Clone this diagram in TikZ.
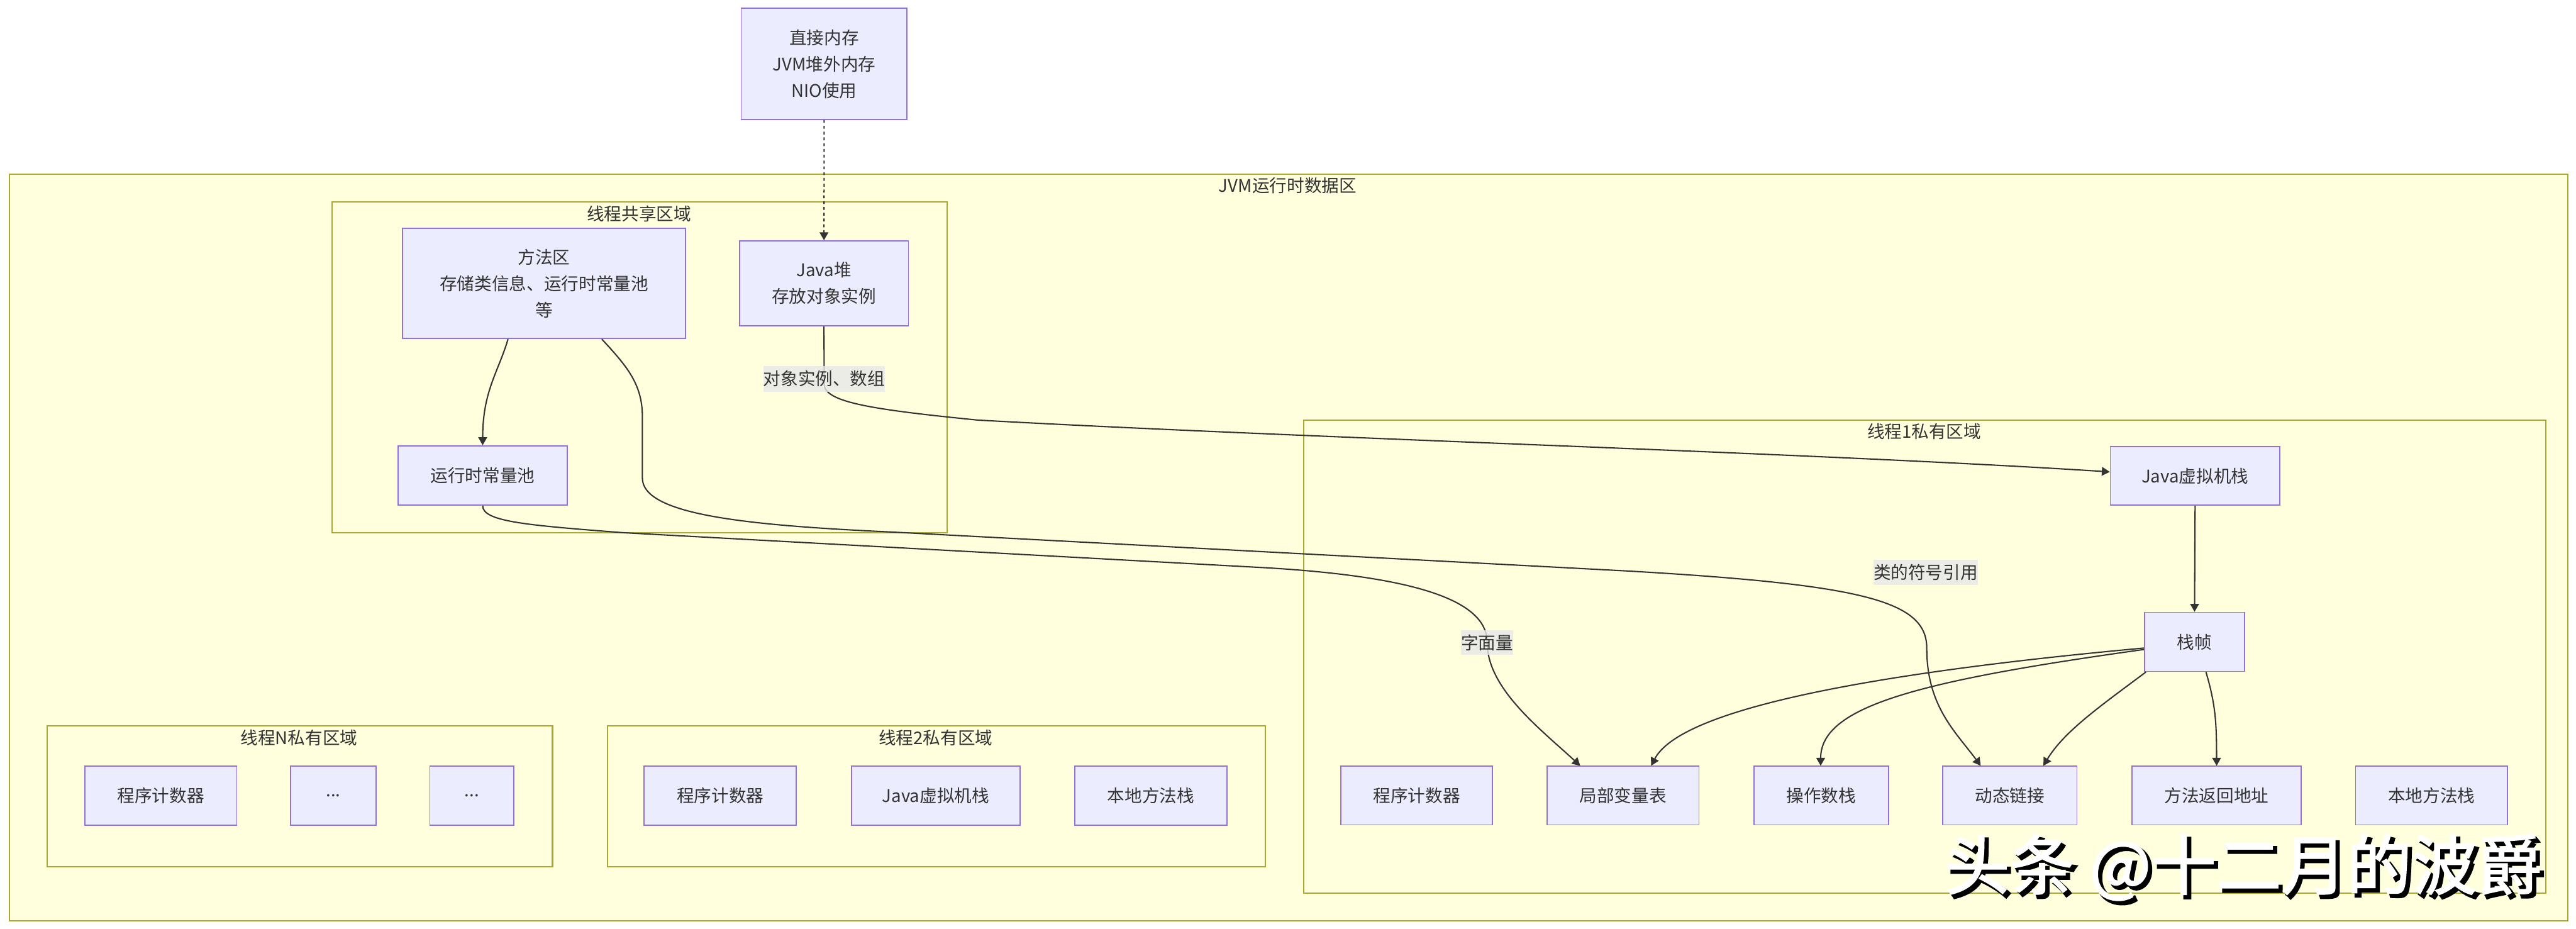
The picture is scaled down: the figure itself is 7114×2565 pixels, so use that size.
\documentclass[tikz,border=0pt]{standalone}
\usepackage{fontspec}
\setmainfont{Noto Sans CJK SC}
\newfontfamily\wmblack[FakeBold=4]{Noto Sans CJK SC}
\newfontfamily\wmwhite[FakeBold=2]{Noto Sans CJK SC}
\usetikzlibrary{arrows.meta,calc}
\definecolor{nodeF}{HTML}{ECECFF}
\definecolor{nodeB}{HTML}{9370DB}
\definecolor{clF}{HTML}{FFFFDE}
\definecolor{clB}{HTML}{AAAA33}
\definecolor{edgeC}{HTML}{333333}
\definecolor{txt}{HTML}{333333}
\definecolor{lblF}{HTML}{E8E8E8}
\begin{document}
\begin{tikzpicture}[x=0.25pt,y=-0.25pt,
 every node/.style={text=txt, font=\fontsize{12pt}{18.25pt}\selectfont},
 nbox/.style={draw=nodeB, fill=nodeF, line width=0.75pt, inner sep=0pt, align=center},
 clust/.style={draw=clB, fill=clF, line width=0.9pt, inner sep=0pt, anchor=north west},
 ttl/.style={inner sep=0pt},
 lbl/.style={fill=lblF, fill opacity=0.8, text opacity=1, inner sep=0pt},
 conn/.style={draw=edgeC, line width=0.9pt, -{Triangle[length=5.5pt,width=6pt]}},
]
\useasboundingbox (0,0) rectangle (7114,2565);
\fill[white] (0,0) rectangle (7114,2565);

% clusters
\node[clust, minimum width=1766.25pt, minimum height=515.25pt] (jvm) at (24,480) {};
\node[ttl] (tjvm) at (3556,513) {JVM运行时数据区};
\node[clust, minimum width=424.5pt, minimum height=228.5pt] (shared) at (916,555) {};
\node[ttl] (tshared) at (1765,590) {线程共享区域};
\node[clust, minimum width=857.25pt, minimum height=326.75pt] (t1) at (3599,1158) {};
\node[ttl] (tt1) at (5314,1192) {线程1私有区域};
\node[clust, minimum width=348.75pt, minimum height=97pt] (tn) at (129,2003) {};
\node[ttl] (ttn) at (826,2038) {线程N私有区域};
\node[clust, minimum width=454pt, minimum height=97pt] (t2) at (1676,2003) {};
\node[ttl] (tt2) at (2584,2038) {线程2私有区域};

% nodes
\node[nbox, minimum width=114.5pt, minimum height=76.75pt] (direct) at (2276,176.5) {直接内存\\JVM堆外内存\\NIO使用};
\node[nbox, minimum width=195.25pt, minimum height=76.25pt] (method) at (1502.5,782.5) {方法区\\存储类信息、运行时常量池\\等};
\node[nbox, minimum width=116.75pt, minimum height=58.75pt] (heap) at (2275.5,782.5) {Java堆\\存放对象实例};
\node[nbox, minimum width=117pt, minimum height=41pt] (rcp) at (1333,1313) {运行时常量池};

\node[nbox, minimum width=117pt, minimum height=40.5pt] (jvms1) at (6062,1314) {Java虚拟机栈};
\node[nbox, minimum width=69.25pt, minimum height=40.75pt] (frame) at (6060.5,1772.5) {栈帧};
\node[nbox, minimum width=104.75pt, minimum height=40.5pt] (pc1) at (3912.5,2197) {程序计数器};
\node[nbox, minimum width=105pt, minimum height=40.5pt] (lvt) at (4482,2197) {局部变量表};
\node[nbox, minimum width=92.75pt, minimum height=40.5pt] (ops) at (5029.5,2197) {操作数栈};
\node[nbox, minimum width=92.75pt, minimum height=40.5pt] (dyn) at (5550.5,2197) {动态链接};
\node[nbox, minimum width=116.75pt, minimum height=40.5pt] (ret) at (6121.5,2197) {方法返回地址};
\node[nbox, minimum width=105pt, minimum height=40.5pt] (nat1) at (6715,2197) {本地方法栈};

\node[nbox, minimum width=105pt, minimum height=40.75pt] (pcN) at (444,2197.5) {程序计数器};
\node[nbox, minimum width=58.75pt, minimum height=40.75pt] (dotsA) at (920.5,2197.5) {...};
\node[nbox, minimum width=58pt, minimum height=40.75pt] (dotsB) at (1303,2197.5) {...};

\node[nbox, minimum width=105pt, minimum height=40.75pt] (pc2) at (1989,2197.5) {程序计数器};
\node[nbox, minimum width=116.5pt, minimum height=40.75pt] (jvms2) at (2584,2197.5) {Java虚拟机栈};
\node[nbox, minimum width=105.25pt, minimum height=40.75pt] (nat2) at (3178.5,2197.5) {本地方法栈};

% edges
\draw[conn, dash pattern=on 2pt off 2pt] (direct.south) -- (heap.north);
\draw[conn] ($(method.south)+(-99.5,0)$) .. controls (1375,1030) and (1333,1080) .. (rcp.north);
\draw[conn] ($(method.south)+(159.5,0)$) .. controls (1730,1010) and (1774,1060) .. (1774,1150) -- (1774,1320)
   .. controls (1774,1420) and (2050,1450) .. (2460,1469) -- (4500,1577)
   .. controls (5150,1615) and (5321,1660) .. (5321,1790)
   .. controls (5321,1950) and (5400,2020) .. ($(dyn.north)+(-80.5,0)$);
\draw[conn] (rcp.south) .. controls (1333,1440) and (1450,1450) .. (1722,1471) -- (3500,1568)
   .. controls (3950,1595) and (4107,1670) .. (4107,1774)
   .. controls (4107,1900) and (4250,2010) .. ($(lvt.north)+(-118,0)$);
\draw[conn] (heap.south) -- (2276,1060) .. controls (2276,1110) and (2400,1130) .. (2700,1160)
   .. controls (3600,1210) and (5000,1250) .. ($(jvms1.west)+(0,-11)$);
\draw[conn] (jvms1.south) -- (frame.north);
\draw[conn] ($(frame.west)+(0,17)$) .. controls (5150,1860) and (4640,1960) .. ($(lvt.north)+(78,0)$);
\draw[conn] ($(frame.west)+(0,21)$) .. controls (5300,1880) and (5028,1950) .. ($(ops.north)+(-1.5,0)$);
\draw[conn] ($(frame.south west)+(6,0)$) .. controls (5800,1950) and (5700,2020) .. ($(dyn.north)+(92.5,0)$);
\draw[conn] ($(frame.south)+(31.5,0)$) .. controls (6120,1950) and (6121,2000) .. (ret.north);

% edge labels
\node[lbl, minimum width=84pt, minimum height=17.75pt] (lobj) at (2276,1046) {对象实例、数组};
\node[lbl, minimum width=36.25pt, minimum height=17pt] (llit) at (4107,1774) {字面量};
\node[lbl, minimum width=71.5pt, minimum height=17.25pt] (lsym) at (5318,1581) {类的符号引用};

% watermark
\node[inner sep=0pt, text=black, font=\wmblack\fontsize{45pt}{50pt}\selectfont] (wm1) at (6205,2405) {头条 @十二月的波爵};
\node[inner sep=0pt, text=white, font=\wmwhite\fontsize{45pt}{50pt}\selectfont] (wm2) at (6195,2395) {头条 @十二月的波爵};
\end{tikzpicture}
\end{document}
